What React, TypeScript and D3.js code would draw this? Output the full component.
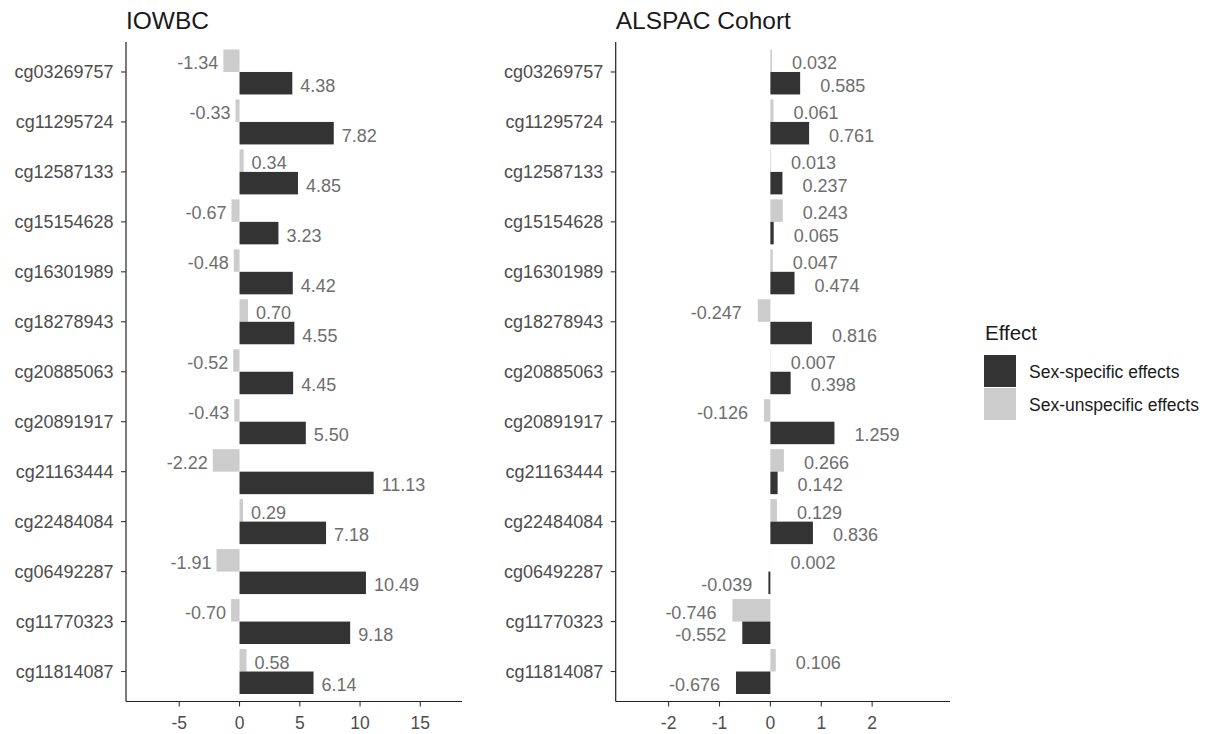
import React from "react";
import * as d3 from "d3";

// ---- Data ----
const categories = [
  "cg03269757", "cg11295724", "cg12587133", "cg15154628", "cg16301989",
  "cg18278943", "cg20885063", "cg20891917", "cg21163444", "cg22484084",
  "cg06492287", "cg11770323", "cg11814087",
];
const seriesNames = ["Sex-specific effects", "Sex-unspecific effects"];

const iowbcSpecific = [4.38, 7.82, 4.85, 3.23, 4.42, 4.55, 4.45, 5.5, 11.13, 7.18, 10.49, 9.18, 6.14];
const iowbcUnspecific = [-1.34, -0.33, 0.34, -0.67, -0.48, 0.7, -0.52, -0.43, -2.22, 0.29, -1.91, -0.7, 0.58];

const alspacSpecific = [0.585, 0.761, 0.237, 0.065, 0.474, 0.816, 0.398, 1.259, 0.142, 0.836, -0.039, -0.552, -0.676];
const alspacUnspecific = [0.032, 0.061, 0.013, 0.243, 0.047, -0.247, 0.007, -0.126, 0.266, 0.129, 0.002, -0.746, 0.106];

const iowbcTicks = [-5, 0, 5, 10, 15];
const alspacTicks = [-2, -1, 0, 1, 2];

// ---- Styles ----
const FONT = "'Liberation Sans', Arial, sans-serif";
const DARK = "#333333";
const LIGHT = "#cccccc";
const TICK_TEXT = "#4d4d4d";
const LABEL_TEXT = "#6e6e6e";

type PanelProps = {
  title: string;
  left: number;
  right: number;
  domain: [number, number];
  ticks: number[];
  specific: number[];
  unspecific: number[];
  digits: number;
  posGap: number;
  negGap: number;
};

const TOP = 42;
const BOTTOM = 701.5;

function Panel(p: PanelProps) {
  const x = d3.scaleLinear().domain(p.domain).range([p.left, p.right]);
  const y = d3.scalePoint<string>().domain(categories).range([TOP, BOTTOM]).padding(0.6);
  const step = y.step();
  const bh = (step * 0.9) / 2;
  const x0 = x(0);

  const label = (v: number, yc: number, key: string) => {
    const xv = x(v);
    const pos = v >= 0;
    return (
      <text
        key={key}
        x={pos ? xv + p.posGap : xv - p.negGap}
        y={yc + 2.5}
        textAnchor={pos ? "start" : "end"}
        dominantBaseline="central"
        fontSize={18}
        fill={LABEL_TEXT}
      >
        {v.toFixed(p.digits)}
      </text>
    );
  };

  return (
    <g fontFamily={FONT}>
      <text x={p.left} y={28.5} fontSize={24.5} fill="#1a1a1a">
        {p.title}
      </text>
      {categories.map((c, i) => {
        const yc = y(c)!;
        const u = p.unspecific[i];
        const s = p.specific[i];
        return (
          <g key={c}>
            <rect
              x={Math.min(x(u), x0)}
              y={yc - bh}
              width={Math.abs(x(u) - x0)}
              height={bh}
              fill={LIGHT}
            />
            <rect
              x={Math.min(x(s), x0)}
              y={yc}
              width={Math.abs(x(s) - x0)}
              height={bh}
              fill={DARK}
            />
            {label(u, yc - bh / 2, c + "u")}
            {label(s, yc + bh / 2, c + "s")}
          </g>
        );
      })}
      {/* y axis */}
      <line x1={p.left} x2={p.left} y1={TOP} y2={BOTTOM} stroke="#222" strokeWidth={1.2} />
      {categories.map((c) => (
        <g key={"yt" + c}>
          <line x1={p.left - 5} x2={p.left} y1={y(c)!} y2={y(c)!} stroke="#333" strokeWidth={1.1} />
          <text
            x={p.left - 12.5}
            y={y(c)!}
            textAnchor="end"
            dominantBaseline="central"
            fontSize={18}
            fill={TICK_TEXT}
          >
            {c}
          </text>
        </g>
      ))}
      {/* x axis */}
      <line x1={p.left} x2={p.right} y1={BOTTOM} y2={BOTTOM} stroke="#222" strokeWidth={1.2} />
      {p.ticks.map((t) => (
        <g key={"xt" + t}>
          <line x1={x(t)} x2={x(t)} y1={BOTTOM} y2={BOTTOM + 5} stroke="#333" strokeWidth={1.1} />
          <text x={x(t)} y={728.5} textAnchor="middle" fontSize={17.5} fill={TICK_TEXT}>
            {t}
          </text>
        </g>
      ))}
    </g>
  );
}

export default function App() {
  return (
    <svg
      width={1215}
      height={734}
      style={{ position: "absolute", left: 0, top: 0, background: "#fff" }}
    >
      <rect width={1215} height={734} fill="#fff" />
      <Panel
        title="IOWBC"
        left={126}
        right={462}
        domain={[-9.42, 18.46]}
        ticks={iowbcTicks}
        specific={iowbcSpecific}
        unspecific={iowbcUnspecific}
        digits={2}
        posGap={8}
        negGap={5}
      />
      <Panel
        title="ALSPAC Cohort"
        left={615.7}
        right={950}
        domain={[-3.04, 3.53]}
        ticks={alspacTicks}
        specific={alspacSpecific}
        unspecific={alspacUnspecific}
        digits={3}
        posGap={20}
        negGap={16}
      />
      {/* legend */}
      <g fontFamily={FONT}>
        <text x={985} y={340} fontSize={20.5} fill="#1a1a1a">
          Effect
        </text>
        {seriesNames.map((n, i) => (
          <g key={n}>
            <rect x={984} y={355 + i * 33} width={32} height={32} fill={i === 0 ? DARK : LIGHT} />
            <text
              x={1029}
              y={355 + i * 33 + 17}
              dominantBaseline="central"
              fontSize={17.5}
              fill="#1a1a1a"
            >
              {n}
            </text>
          </g>
        ))}
      </g>
    </svg>
  );
}
